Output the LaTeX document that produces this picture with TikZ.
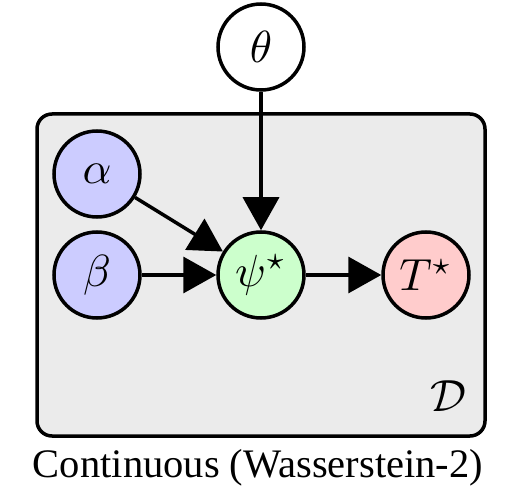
\documentclass[tikz,border=0pt]{standalone}
\usepackage{graphicx}
\usepackage{fontspec}
\newfontfamily\capfont{Liberation Serif}
\usetikzlibrary{arrows.meta}
\newcommand\mth[1]{\scalebox{4.5}{$#1$}}
\definecolor{boxgray}{RGB}{235,235,235}
\definecolor{nblue}{RGB}{204,204,255}
\definecolor{ngreen}{RGB}{204,255,204}
\definecolor{nred}{RGB}{255,204,204}
\begin{document}
\begin{tikzpicture}[x=1pt,y=-1pt,
  var/.style={circle,draw=black,line width=3.5pt,minimum size=86pt,inner sep=0pt},
  edge/.style={line width=3.5pt,-{Triangle[length=33pt,width=36pt]}}]
\useasboundingbox (0,0) rectangle (517,492);
\node[draw=black,fill=boxgray,line width=3.5pt,rounded corners=15pt,
  minimum width=448pt,minimum height=322pt,inner sep=0pt] (plate) at (261,275) {};
\node[var,fill=white] (theta) at (261,47) {\mth{\theta}};
\node[var,fill=nblue] (alpha) at (97,174) {\mth{\alpha}};
\node[var,fill=nblue] (beta) at (97,275) {\mth{\beta}};
\node[var,fill=ngreen] (psi) at (261,275) {\mth{\psi^\star}};
\node[var,fill=nred] (T) at (426,275) {\mth{T^\star}};
\node (D) at (448,396) {\mth{\mathcal{D}}};
\node (cap) at (258,468) {\capfont\scalebox{4.05}{Continuous (Wasserstein-2)}};
\draw[edge] (theta) -- (psi);
\draw[edge] (alpha) -- (psi);
\draw[edge] (beta) -- (psi);
\draw[edge] (psi) -- (T);
\end{tikzpicture}
\end{document}
